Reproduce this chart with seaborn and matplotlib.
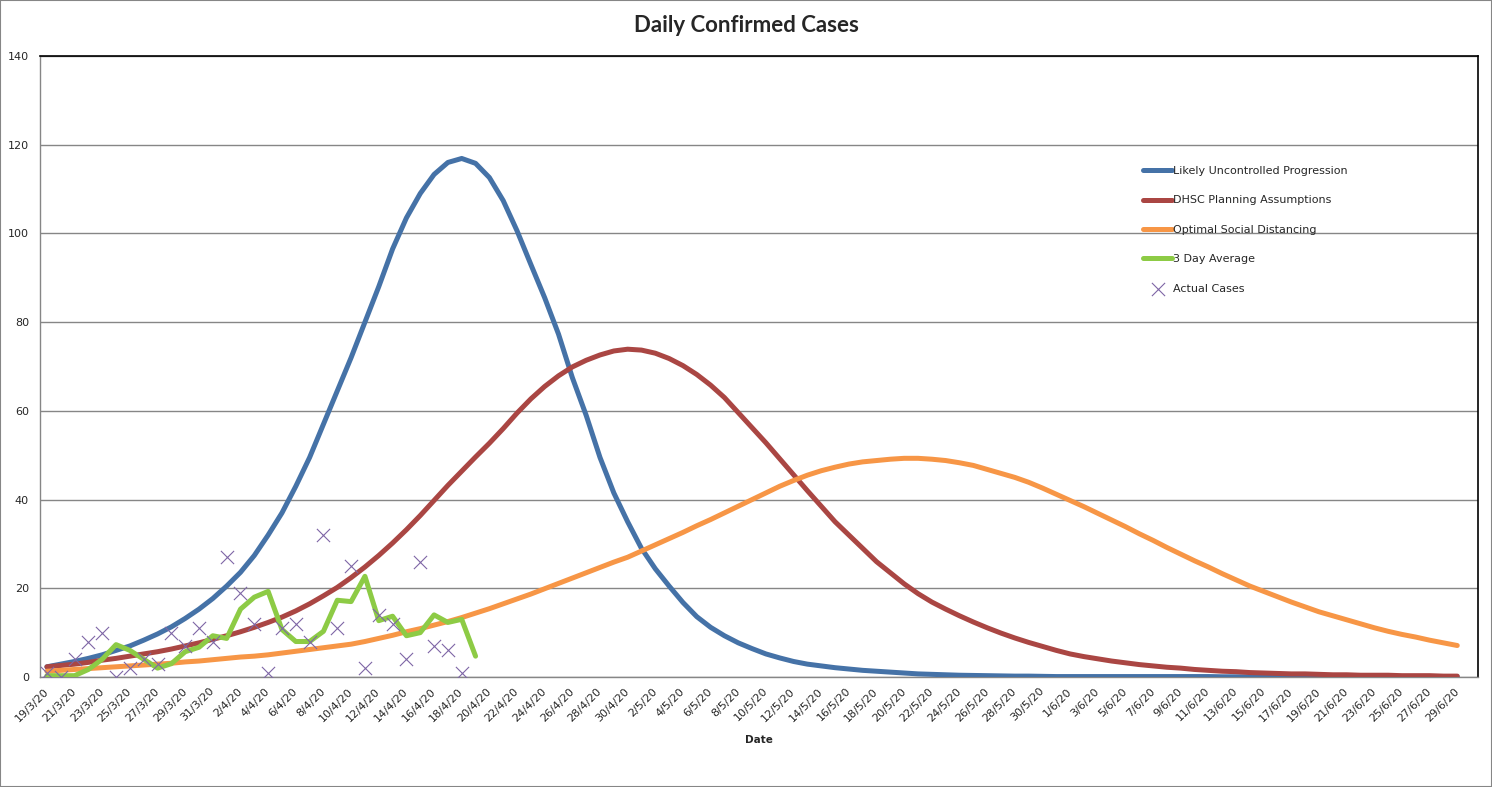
import numpy as np
import pandas as pd
import matplotlib
matplotlib.use("Agg")
import matplotlib.pyplot as plt
from matplotlib.patches import Rectangle
import seaborn as sns

# category axis: 19/3/20 .. 30/6/20 (one per day)
dates = pd.date_range("2020-03-19", "2020-06-30", freq="D")
date_labels = [f"{d.day}/{d.month}/20" for d in dates]

likely_uncontrolled = [
    2.3, 2.9, 3.5, 4.2, 5.0, 6.0, 7.0, 8.3, 9.7, 11.3,
    13.2, 15.3, 17.7, 20.5, 23.6, 27.4, 32.0, 37.0, 43.0, 49.5,
    57.0, 64.5, 72.0, 80.0, 88.0, 96.5, 103.5, 109.0, 113.3, 116.0,
    116.9, 115.8, 112.6, 107.4, 100.6, 93.0, 85.5, 77.3, 67.5, 59.0,
    49.5, 41.5, 35.0, 29.0, 24.4, 20.5, 16.8, 13.6, 11.2, 9.3,
    7.7, 6.4, 5.2, 4.3, 3.5, 2.9, 2.5, 2.1, 1.8, 1.5,
    1.3, 1.1, 0.9, 0.7, 0.6, 0.5, 0.4, 0.35, 0.3, 0.25,
    0.2, 0.2, 0.15, 0.1, 0.1, 0.1, 0.1, 0.1, 0.1, 0.1,
    0.1, 0.1, 0.1, 0.1, 0.1, 0.05, 0.05, 0.05, 0.05, 0.05,
    0.05, 0.05, 0.05, 0.05, 0.05, 0.05, 0.05, 0.05, 0.05, 0.05,
    0.05, 0.05, 0.05,
]

dhsc_planning = [
    2.3, 2.6, 2.9, 3.3, 3.8, 4.2, 4.7, 5.2, 5.7, 6.3,
    7.0, 7.7, 8.5, 9.3, 10.2, 11.2, 12.3, 13.5, 14.9, 16.5,
    18.3, 20.2, 22.4, 24.8, 27.4, 30.2, 33.2, 36.4, 39.8, 43.2,
    46.4, 49.6, 52.7, 56.0, 59.5, 62.7, 65.5, 67.9, 69.9, 71.4,
    72.6, 73.5, 73.9, 73.7, 73.0, 71.8, 70.2, 68.2, 65.8, 63.0,
    59.6, 56.2, 52.8, 49.2, 45.6, 42.0, 38.5, 35.0, 32.0, 29.0,
    26.0, 23.5, 21.0, 18.8, 16.9, 15.3, 13.8, 12.4, 11.1, 9.9,
    8.8, 7.8, 6.9, 6.0, 5.2, 4.6, 4.1, 3.6, 3.2, 2.8,
    2.5, 2.2, 2.0, 1.7, 1.5, 1.3, 1.2, 1.0, 0.9, 0.8,
    0.7, 0.7, 0.6, 0.5, 0.5, 0.4, 0.4, 0.4, 0.3, 0.3,
    0.3, 0.2, 0.2,
]

optimal_distancing = [
    1.3, 1.5, 1.7, 1.9, 2.1, 2.3, 2.5, 2.7, 2.9, 3.1,
    3.4, 3.6, 3.9, 4.2, 4.5, 4.7, 5.0, 5.4, 5.8, 6.2,
    6.6, 7.0, 7.4, 8.0, 8.7, 9.4, 10.2, 10.9, 11.7, 12.5,
    13.4, 14.4, 15.4, 16.5, 17.6, 18.7, 19.9, 21.1, 22.3, 23.5,
    24.7, 25.9, 27.0, 28.4, 29.8, 31.2, 32.6, 34.1, 35.5, 37.0,
    38.5, 40.0, 41.5, 43.0, 44.3, 45.5, 46.5, 47.3, 48.0, 48.5,
    48.8, 49.1, 49.3, 49.3, 49.1, 48.8, 48.3, 47.7, 46.8, 45.9,
    45.0, 43.9, 42.6, 41.2, 39.8, 38.4, 36.9, 35.4, 33.9, 32.3,
    30.8, 29.2, 27.7, 26.2, 24.8, 23.3, 21.9, 20.5, 19.3, 18.1,
    16.9, 15.8, 14.7, 13.8, 12.9, 12.0, 11.1, 10.3, 9.6, 9.0,
    8.3, 7.7, 7.1,
]

three_day_avg = [
    0.3, 0.3, 0.3, 1.7, 4.0, 7.3, 6.0, 4.0, 2.0, 3.0,
    5.7, 6.7, 9.3, 8.7, 15.3, 18.0, 19.3, 10.7, 8.0, 8.0,
    10.3, 17.3, 17.0, 22.7, 12.7, 13.7, 9.3, 10.0, 14.0, 12.3,
    13.0, 4.7,
]

actual_cases = [
    1, 0, 4, 8, 10, 0, 2, 4, 3, 10,
    7, 11, 8, 27, 19, 12, 1, 11, 12, 8,
    32, 11, 25, 2, 14, 12, 4, 26, 7, 6,
    1,
]

sns.set_style("white")
plt.rcParams['font.family'] = ['DejaVu Sans']

fig = plt.figure(figsize=(14.92, 7.87), dpi=100)
ax = fig.add_axes([40 / 1492, 1 - 677 / 787, 1438 / 1492, 621 / 787])

grid_col = '#868686'
lw = 3.6
series = [
    (likely_uncontrolled, '#4572A7', 'Likely Uncontrolled Progression'),
    (dhsc_planning, '#AA4643', 'DHSC Planning Assumptions'),
    (optimal_distancing, '#F79646', 'Optimal Social Distancing'),
    (three_day_avg, '#8DCB45', '3 Day Average'),
]
for vals, col, name in series:
    sns.lineplot(x=np.arange(len(vals)), y=vals, color=col, linewidth=lw,
                 label=name, ax=ax, solid_capstyle='round', zorder=3)

sns.scatterplot(x=np.arange(len(actual_cases)), y=actual_cases, marker='x',
                color='#7E66A6', s=90, linewidth=0.8, label='Actual Cases',
                ax=ax, zorder=4)

n_cat = len(dates)
ax.set_xlim(-0.5, n_cat - 0.5)
ax.set_ylim(0, 140)
ax.set_yticks(range(0, 141, 20))
ax.yaxis.grid(True, color=grid_col, linewidth=1)
ax.xaxis.grid(False)

ax.set_xticks(np.arange(0, n_cat, 2))
ax.set_xticklabels(date_labels[::2], rotation=45, ha='right', va='center',
                   rotation_mode='anchor', fontsize=8)
ax.set_xticks(np.arange(-0.5, n_cat, 1), minor=True)
ax.tick_params(axis='x', which='major', length=0, pad=9)
ax.tick_params(axis='x', which='minor', length=5, color=grid_col, width=1)
ax.tick_params(axis='y', length=5, color=grid_col, width=1, labelsize=8, pad=3)

for side in ['left', 'bottom']:
    ax.spines[side].set_color(grid_col)
    ax.spines[side].set_linewidth(1)
for side in ['top', 'right']:
    ax.spines[side].set_color('black')
    ax.spines[side].set_linewidth(1.2)

ax.set_xlabel('Date', fontsize=7.5, fontweight='bold', labelpad=8)
ax.set_ylabel('')

leg = ax.legend(loc='upper left', bbox_to_anchor=(0.764, 0.83), frameon=False,
                fontsize=8, handlelength=2.6, handletextpad=0.1,
                labelspacing=1.75, borderaxespad=0)

fig.text(0.5, 1 - 26 / 787, 'Daily Confirmed Cases', ha='center', va='center',
         fontsize=16, fontweight='bold', family=['Lato', 'DejaVu Sans'])

fig.patches.append(Rectangle((0, 0), 1, 1, transform=fig.transFigure,
                             fill=False, edgecolor='#868686', linewidth=1.5))

plt.savefig('out.png', dpi=100)
